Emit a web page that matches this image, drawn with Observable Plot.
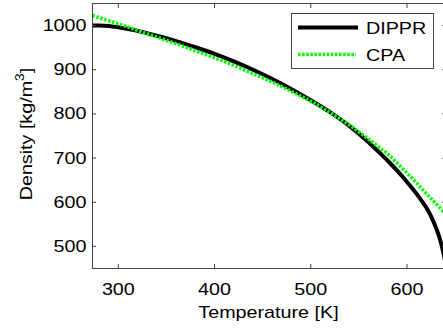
<!DOCTYPE html>
<html>
<head>
<meta charset="utf-8">
<script src="https://cdn.jsdelivr.net/npm/d3@7"></script>
<script src="https://cdn.jsdelivr.net/npm/@observablehq/plot@0.6"></script>
<style>
  html, body { margin: 0; padding: 0; background: #fff; overflow: hidden; width: 443px; height: 328px; }
  #chart { position: relative; width: 443px; height: 328px; overflow: hidden; }
</style>
</head>
<body>
<div id="chart"></div>
<script>
// ---- data ----
const seriesNames = ["DIPPR", "CPA"];
const temperatureDIPPR = [273.15, 280, 290, 300, 320, 340, 360, 380, 400, 420, 440, 460, 480, 500, 520, 540, 560, 573, 580, 590, 600, 610, 616, 620, 625, 630, 634, 638, 640];
const densityDIPPR     = [1000, 1000, 999, 996, 988, 977, 965, 951, 936, 919, 900, 879, 856, 831, 804, 773, 736, 709, 694, 671, 646, 619, 601, 588, 568, 543, 518, 484, 462];
const temperatureCPA = [273.15, 280, 290, 300, 320, 340, 360, 380, 400, 420, 440, 460, 480, 500, 520, 540, 560, 573, 580, 590, 600, 610, 620, 630, 640];
const densityCPA     = [1023, 1018, 1011, 1004, 989, 974, 959, 943, 927, 910, 891, 872, 851, 829, 803, 775, 743, 721, 709, 688, 666, 643, 620, 597, 574];
const xTicks = [300, 400, 500, 600];
const yTicks = [500, 600, 700, 800, 900, 1000];
const xDomain = [273.15, 640];
const yDomain = [450, 1050];
const xLabel = "Temperature [K]";
const yLabelMain = "Density [kg/m";
const yLabelSup = "3";
const yLabelEnd = "]";

const dippr = temperatureDIPPR.map((T, i) => ({T, rho: densityDIPPR[i]}));
const cpa = temperatureCPA.map((T, i) => ({T, rho: densityCPA[i]}));

const FONT = "'Liberation Sans', Arial, sans-serif";
const AX = "#444";
const GREEN = "#00ff00";
const DASH = "2.5,1.6";
const K = 1.16; // horizontal stretch of the text, as in the reference

const chart = Plot.plot({
  width: 443,
  height: 328,
  marginLeft: 92,
  marginRight: -2,
  marginTop: 3,
  marginBottom: 60,
  style: {fontFamily: FONT, fontSize: "17px", color: "#000", background: "#fff", overflow: "hidden"},
  x: {domain: xDomain, label: null},
  y: {domain: yDomain, label: null},
  marks: [
    Plot.line(dippr, {x: "T", y: "rho", stroke: "#000", strokeWidth: 4, curve: "monotone-x", strokeLinecap: "butt", clip: true}),
    Plot.line(cpa, {x: "T", y: "rho", stroke: GREEN, strokeWidth: 3.5, strokeDasharray: DASH, strokeLinecap: "butt", curve: "monotone-x", clip: true}),
    Plot.frame({stroke: AX}),
    Plot.axisX(xTicks, {anchor: "bottom", tickSize: -4, tickFormat: () => "", label: null, stroke: AX}),
    Plot.axisX(xTicks, {anchor: "top", tickSize: -4, tickFormat: () => "", label: null, stroke: AX}),
    Plot.axisY(yTicks, {anchor: "left", tickSize: -4, tickFormat: () => "", label: null, stroke: AX}),
    Plot.axisY(yTicks, {anchor: "right", tickSize: -4, tickFormat: () => "", label: null, stroke: AX}),
    Plot.axisX(xTicks, {anchor: "bottom", tickSize: 0, tickPadding: 14, tickFormat: d => String(d), label: null, fill: "#000"}),
    Plot.axisY(yTicks, {anchor: "left", tickSize: 0, tickPadding: 6, tickFormat: d => String(d), label: null, fill: "#000"})
  ]
});

document.getElementById("chart").appendChild(chart);

const svg = d3.select(chart);

// axis titles
svg.append("text")
  .attr("x", (92 + 445) / 2)
  .attr("y", 318)
  .attr("text-anchor", "middle")
  .attr("font-family", FONT)
  .attr("font-size", 17)
  .attr("fill", "#000")
  .text(xLabel);

const yl = svg.append("text")
  .attr("transform", `translate(32,134) rotate(-90) scale(${K},1)`)
  .attr("text-anchor", "middle")
  .attr("font-family", FONT)
  .attr("font-size", 17)
  .attr("fill", "#000");
yl.append("tspan").text(yLabelMain);
yl.append("tspan").attr("font-size", 12).attr("dy", -8).text(yLabelSup);
yl.append("tspan").attr("dy", 8).text(yLabelEnd);

// legend
const lg = svg.append("g");
lg.append("rect").attr("x", 291.5).attr("y", 13.5).attr("width", 142).attr("height", 55)
  .attr("fill", "#fff").attr("stroke", AX).attr("stroke-width", 1);
const entries = [
  {name: seriesNames[0], stroke: "#000", width: 4, dash: null, y: 27.5, x2: 358},
  {name: seriesNames[1], stroke: GREEN, width: 3.5, dash: DASH, y: 54.5, x2: 356}
];
for (const e of entries) {
  lg.append("line").attr("x1", 298).attr("x2", e.x2).attr("y1", e.y).attr("y2", e.y)
    .attr("stroke", e.stroke).attr("stroke-width", e.width).attr("stroke-dasharray", e.dash);
  lg.append("text").attr("x", 366).attr("y", e.y + 6)
    .attr("text-anchor", "start")
    .attr("font-family", FONT).attr("font-size", 17).attr("fill", "#000")
    .text(e.name);
}

svg.selectAll("text").each(function() {
  if (this.querySelector("tspan")) return;
  const w = this.getComputedTextLength();
  if (w > 0) {
    this.setAttribute("textLength", (w * K).toFixed(2));
    this.setAttribute("lengthAdjust", "spacingAndGlyphs");
  }
});
</script>
</body>
</html>
